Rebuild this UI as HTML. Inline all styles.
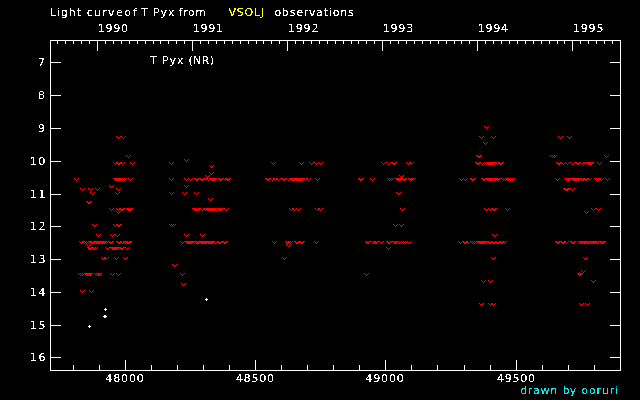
<!DOCTYPE html>
<html><head><meta charset="utf-8"><title>Light curve of T Pyx</title>
<style>
html,body{margin:0;padding:0;background:#000;}
body{width:640px;height:400px;overflow:hidden;position:relative;font-family:"DejaVu Sans","Liberation Sans",sans-serif;font-size:11px;color:#fff;}
svg{position:absolute;left:0;top:0;}
.t{position:absolute;white-space:pre;line-height:1;letter-spacing:0.75px;filter:url(#th);}
</style></head><body>
<svg width="640" height="400" viewBox="0 0 640 400" shape-rendering="crispEdges">
<defs><filter id="th" x="0" y="0" width="100%" height="100%" color-interpolation-filters="sRGB"><feComponentTransfer><feFuncA type="discrete" tableValues="0 0 1 1 1"/></feComponentTransfer></filter></defs>
<rect width="640" height="400" fill="#000"/>
<path fill="#fff" d="M50 40h571v1h-571zM50 370h571v1h-571zM50 40h1v331h-1zM620 40h1v331h-1zM50 62h11v1h-11zM610 62h11v1h-11zM50 95h11v1h-11zM610 95h11v1h-11zM50 128h11v1h-11zM610 128h11v1h-11zM50 161h11v1h-11zM610 161h11v1h-11zM50 194h11v1h-11zM610 194h11v1h-11zM50 226h11v1h-11zM610 226h11v1h-11zM50 259h11v1h-11zM610 259h11v1h-11zM50 292h11v1h-11zM610 292h11v1h-11zM50 325h11v1h-11zM610 325h11v1h-11zM50 357h11v1h-11zM610 357h11v1h-11zM73 365h1v5h-1zM99 365h1v5h-1zM125 360h1v10h-1zM151 365h1v5h-1zM177 365h1v5h-1zM203 365h1v5h-1zM229 365h1v5h-1zM255 360h1v10h-1zM281 365h1v5h-1zM307 365h1v5h-1zM333 365h1v5h-1zM359 365h1v5h-1zM385 360h1v10h-1zM411 365h1v5h-1zM437 365h1v5h-1zM464 365h1v5h-1zM490 365h1v5h-1zM516 360h1v10h-1zM542 365h1v5h-1zM568 365h1v5h-1zM594 365h1v5h-1zM57 40h1v4h-1zM65 40h1v4h-1zM73 40h1v4h-1zM81 40h1v4h-1zM89 40h1v4h-1zM97 40h1v11h-1zM105 40h1v4h-1zM113 40h1v4h-1zM121 40h1v4h-1zM129 40h1v4h-1zM137 40h1v4h-1zM145 40h1v4h-1zM153 40h1v4h-1zM160 40h1v4h-1zM168 40h1v4h-1zM176 40h1v4h-1zM184 40h1v4h-1zM192 40h1v11h-1zM200 40h1v4h-1zM208 40h1v4h-1zM216 40h1v4h-1zM224 40h1v4h-1zM232 40h1v4h-1zM240 40h1v4h-1zM248 40h1v4h-1zM256 40h1v4h-1zM263 40h1v4h-1zM271 40h1v4h-1zM279 40h1v4h-1zM287 40h1v11h-1zM295 40h1v4h-1zM303 40h1v4h-1zM311 40h1v4h-1zM319 40h1v4h-1zM327 40h1v4h-1zM335 40h1v4h-1zM343 40h1v4h-1zM351 40h1v4h-1zM358 40h1v4h-1zM366 40h1v4h-1zM374 40h1v4h-1zM382 40h1v11h-1zM390 40h1v4h-1zM398 40h1v4h-1zM406 40h1v4h-1zM414 40h1v4h-1zM422 40h1v4h-1zM430 40h1v4h-1zM438 40h1v4h-1zM446 40h1v4h-1zM454 40h1v4h-1zM461 40h1v4h-1zM469 40h1v4h-1zM477 40h1v11h-1zM485 40h1v4h-1zM493 40h1v4h-1zM501 40h1v4h-1zM509 40h1v4h-1zM517 40h1v4h-1zM525 40h1v4h-1zM533 40h1v4h-1zM541 40h1v4h-1zM549 40h1v4h-1zM557 40h1v4h-1zM564 40h1v4h-1zM572 40h1v11h-1zM580 40h1v4h-1zM588 40h1v4h-1zM596 40h1v4h-1zM604 40h1v4h-1zM612 40h1v4h-1z"/>
<path fill="#f00" d="M116 136h1v1h1v1h1v-1h1v-1h1v1h-1v1h-1v1h-1v-1h-1v-1h-1zM121 136h1v1h1v1h1v-1h1v-1h1v1h-1v1h-1v1h-1v-1h-1v-1h-1zM126 155h1v1h1v1h1v-1h1v-1h1v1h-1v1h-1v1h-1v-1h-1v-1h-1zM113 162h1v1h1v1h1v-1h1v-1h1v1h-1v1h-1v1h-1v-1h-1v-1h-1zM116 162h1v1h1v1h1v-1h1v-1h1v1h-1v1h-1v1h-1v-1h-1v-1h-1zM117 162h1v1h1v1h1v-1h1v-1h1v1h-1v1h-1v1h-1v-1h-1v-1h-1zM120 162h1v1h1v1h1v-1h1v-1h1v1h-1v1h-1v1h-1v-1h-1v-1h-1zM130 162h1v1h1v1h1v-1h1v-1h1v1h-1v1h-1v1h-1v-1h-1v-1h-1zM74 178h1v1h1v1h1v-1h1v-1h1v1h-1v1h-1v1h-1v-1h-1v-1h-1zM113 178h1v1h1v1h1v-1h1v-1h1v1h-1v1h-1v1h-1v-1h-1v-1h-1zM114 178h1v1h1v1h1v-1h1v-1h1v1h-1v1h-1v1h-1v-1h-1v-1h-1zM115 178h1v1h1v1h1v-1h1v-1h1v1h-1v1h-1v1h-1v-1h-1v-1h-1zM116 178h1v1h1v1h1v-1h1v-1h1v1h-1v1h-1v1h-1v-1h-1v-1h-1zM117 178h1v1h1v1h1v-1h1v-1h1v1h-1v1h-1v1h-1v-1h-1v-1h-1zM118 178h1v1h1v1h1v-1h1v-1h1v1h-1v1h-1v1h-1v-1h-1v-1h-1zM120 178h1v1h1v1h1v-1h1v-1h1v1h-1v1h-1v1h-1v-1h-1v-1h-1zM122 178h1v1h1v1h1v-1h1v-1h1v1h-1v1h-1v1h-1v-1h-1v-1h-1zM128 178h1v1h1v1h1v-1h1v-1h1v1h-1v1h-1v1h-1v-1h-1v-1h-1zM109 185h1v1h1v1h1v-1h1v-1h1v1h-1v1h-1v1h-1v-1h-1v-1h-1zM80 188h1v1h1v1h1v-1h1v-1h1v1h-1v1h-1v1h-1v-1h-1v-1h-1zM88 188h1v1h1v1h1v-1h1v-1h1v1h-1v1h-1v1h-1v-1h-1v-1h-1zM95 188h1v1h1v1h1v-1h1v-1h1v1h-1v1h-1v1h-1v-1h-1v-1h-1zM116 188h1v1h1v1h1v-1h1v-1h1v1h-1v1h-1v1h-1v-1h-1v-1h-1zM90 192h1v1h1v1h1v-1h1v-1h1v1h-1v1h-1v1h-1v-1h-1v-1h-1zM115 192h1v1h1v1h1v-1h1v-1h1v1h-1v1h-1v1h-1v-1h-1v-1h-1zM86 201h1v1h1v1h1v-1h1v-1h1v1h-1v1h-1v1h-1v-1h-1v-1h-1zM87 201h1v1h1v1h1v-1h1v-1h1v1h-1v1h-1v1h-1v-1h-1v-1h-1zM109 208h1v1h1v1h1v-1h1v-1h1v1h-1v1h-1v1h-1v-1h-1v-1h-1zM116 208h1v1h1v1h1v-1h1v-1h1v1h-1v1h-1v1h-1v-1h-1v-1h-1zM119 208h1v1h1v1h1v-1h1v-1h1v1h-1v1h-1v1h-1v-1h-1v-1h-1zM120 208h1v1h1v1h1v-1h1v-1h1v1h-1v1h-1v1h-1v-1h-1v-1h-1zM126 208h1v1h1v1h1v-1h1v-1h1v1h-1v1h-1v1h-1v-1h-1v-1h-1zM127 208h1v1h1v1h1v-1h1v-1h1v1h-1v1h-1v1h-1v-1h-1v-1h-1zM128 208h1v1h1v1h1v-1h1v-1h1v1h-1v1h-1v1h-1v-1h-1v-1h-1zM116 211h1v1h1v1h1v-1h1v-1h1v1h-1v1h-1v1h-1v-1h-1v-1h-1zM92 224h1v1h1v1h1v-1h1v-1h1v1h-1v1h-1v1h-1v-1h-1v-1h-1zM113 224h1v1h1v1h1v-1h1v-1h1v1h-1v1h-1v1h-1v-1h-1v-1h-1zM116 224h1v1h1v1h1v-1h1v-1h1v1h-1v1h-1v1h-1v-1h-1v-1h-1zM117 224h1v1h1v1h1v-1h1v-1h1v1h-1v1h-1v1h-1v-1h-1v-1h-1zM96 234h1v1h1v1h1v-1h1v-1h1v1h-1v1h-1v1h-1v-1h-1v-1h-1zM110 234h1v1h1v1h1v-1h1v-1h1v1h-1v1h-1v1h-1v-1h-1v-1h-1zM115 234h1v1h1v1h1v-1h1v-1h1v1h-1v1h-1v1h-1v-1h-1v-1h-1zM79 241h1v1h1v1h1v-1h1v-1h1v1h-1v1h-1v1h-1v-1h-1v-1h-1zM82 241h1v1h1v1h1v-1h1v-1h1v1h-1v1h-1v1h-1v-1h-1v-1h-1zM84 241h1v1h1v1h1v-1h1v-1h1v1h-1v1h-1v1h-1v-1h-1v-1h-1zM86 241h1v1h1v1h1v-1h1v-1h1v1h-1v1h-1v1h-1v-1h-1v-1h-1zM89 241h1v1h1v1h1v-1h1v-1h1v1h-1v1h-1v1h-1v-1h-1v-1h-1zM90 241h1v1h1v1h1v-1h1v-1h1v1h-1v1h-1v1h-1v-1h-1v-1h-1zM91 241h1v1h1v1h1v-1h1v-1h1v1h-1v1h-1v1h-1v-1h-1v-1h-1zM94 241h1v1h1v1h1v-1h1v-1h1v1h-1v1h-1v1h-1v-1h-1v-1h-1zM95 241h1v1h1v1h1v-1h1v-1h1v1h-1v1h-1v1h-1v-1h-1v-1h-1zM96 241h1v1h1v1h1v-1h1v-1h1v1h-1v1h-1v1h-1v-1h-1v-1h-1zM97 241h1v1h1v1h1v-1h1v-1h1v1h-1v1h-1v1h-1v-1h-1v-1h-1zM99 241h1v1h1v1h1v-1h1v-1h1v1h-1v1h-1v1h-1v-1h-1v-1h-1zM100 241h1v1h1v1h1v-1h1v-1h1v1h-1v1h-1v1h-1v-1h-1v-1h-1zM101 241h1v1h1v1h1v-1h1v-1h1v1h-1v1h-1v1h-1v-1h-1v-1h-1zM102 241h1v1h1v1h1v-1h1v-1h1v1h-1v1h-1v1h-1v-1h-1v-1h-1zM104 241h1v1h1v1h1v-1h1v-1h1v1h-1v1h-1v1h-1v-1h-1v-1h-1zM108 241h1v1h1v1h1v-1h1v-1h1v1h-1v1h-1v1h-1v-1h-1v-1h-1zM109 241h1v1h1v1h1v-1h1v-1h1v1h-1v1h-1v1h-1v-1h-1v-1h-1zM116 241h1v1h1v1h1v-1h1v-1h1v1h-1v1h-1v1h-1v-1h-1v-1h-1zM117 241h1v1h1v1h1v-1h1v-1h1v1h-1v1h-1v1h-1v-1h-1v-1h-1zM120 241h1v1h1v1h1v-1h1v-1h1v1h-1v1h-1v1h-1v-1h-1v-1h-1zM123 241h1v1h1v1h1v-1h1v-1h1v1h-1v1h-1v1h-1v-1h-1v-1h-1zM125 241h1v1h1v1h1v-1h1v-1h1v1h-1v1h-1v1h-1v-1h-1v-1h-1zM126 241h1v1h1v1h1v-1h1v-1h1v1h-1v1h-1v1h-1v-1h-1v-1h-1zM127 241h1v1h1v1h1v-1h1v-1h1v1h-1v1h-1v1h-1v-1h-1v-1h-1zM86 244h1v1h1v1h1v-1h1v-1h1v1h-1v1h-1v1h-1v-1h-1v-1h-1zM87 247h1v1h1v1h1v-1h1v-1h1v1h-1v1h-1v1h-1v-1h-1v-1h-1zM88 247h1v1h1v1h1v-1h1v-1h1v1h-1v1h-1v1h-1v-1h-1v-1h-1zM91 247h1v1h1v1h1v-1h1v-1h1v1h-1v1h-1v1h-1v-1h-1v-1h-1zM93 247h1v1h1v1h1v-1h1v-1h1v1h-1v1h-1v1h-1v-1h-1v-1h-1zM105 247h1v1h1v1h1v-1h1v-1h1v1h-1v1h-1v1h-1v-1h-1v-1h-1zM110 247h1v1h1v1h1v-1h1v-1h1v1h-1v1h-1v1h-1v-1h-1v-1h-1zM111 247h1v1h1v1h1v-1h1v-1h1v1h-1v1h-1v1h-1v-1h-1v-1h-1zM112 247h1v1h1v1h1v-1h1v-1h1v1h-1v1h-1v1h-1v-1h-1v-1h-1zM113 247h1v1h1v1h1v-1h1v-1h1v1h-1v1h-1v1h-1v-1h-1v-1h-1zM114 247h1v1h1v1h1v-1h1v-1h1v1h-1v1h-1v1h-1v-1h-1v-1h-1zM116 247h1v1h1v1h1v-1h1v-1h1v1h-1v1h-1v1h-1v-1h-1v-1h-1zM119 247h1v1h1v1h1v-1h1v-1h1v1h-1v1h-1v1h-1v-1h-1v-1h-1zM120 247h1v1h1v1h1v-1h1v-1h1v1h-1v1h-1v1h-1v-1h-1v-1h-1zM125 247h1v1h1v1h1v-1h1v-1h1v1h-1v1h-1v1h-1v-1h-1v-1h-1zM101 257h1v1h1v1h1v-1h1v-1h1v1h-1v1h-1v1h-1v-1h-1v-1h-1zM104 257h1v1h1v1h1v-1h1v-1h1v1h-1v1h-1v1h-1v-1h-1v-1h-1zM114 257h1v1h1v1h1v-1h1v-1h1v1h-1v1h-1v1h-1v-1h-1v-1h-1zM123 257h1v1h1v1h1v-1h1v-1h1v1h-1v1h-1v1h-1v-1h-1v-1h-1zM78 273h1v1h1v1h1v-1h1v-1h1v1h-1v1h-1v1h-1v-1h-1v-1h-1zM80 273h1v1h1v1h1v-1h1v-1h1v1h-1v1h-1v1h-1v-1h-1v-1h-1zM84 273h1v1h1v1h1v-1h1v-1h1v1h-1v1h-1v1h-1v-1h-1v-1h-1zM85 273h1v1h1v1h1v-1h1v-1h1v1h-1v1h-1v1h-1v-1h-1v-1h-1zM86 273h1v1h1v1h1v-1h1v-1h1v1h-1v1h-1v1h-1v-1h-1v-1h-1zM87 273h1v1h1v1h1v-1h1v-1h1v1h-1v1h-1v1h-1v-1h-1v-1h-1zM88 273h1v1h1v1h1v-1h1v-1h1v1h-1v1h-1v1h-1v-1h-1v-1h-1zM94 273h1v1h1v1h1v-1h1v-1h1v1h-1v1h-1v1h-1v-1h-1v-1h-1zM96 273h1v1h1v1h1v-1h1v-1h1v1h-1v1h-1v1h-1v-1h-1v-1h-1zM97 273h1v1h1v1h1v-1h1v-1h1v1h-1v1h-1v1h-1v-1h-1v-1h-1zM110 273h1v1h1v1h1v-1h1v-1h1v1h-1v1h-1v1h-1v-1h-1v-1h-1zM116 273h1v1h1v1h1v-1h1v-1h1v1h-1v1h-1v1h-1v-1h-1v-1h-1zM80 290h1v1h1v1h1v-1h1v-1h1v1h-1v1h-1v1h-1v-1h-1v-1h-1zM89 290h1v1h1v1h1v-1h1v-1h1v1h-1v1h-1v1h-1v-1h-1v-1h-1zM184 159h1v1h1v1h1v-1h1v-1h1v1h-1v1h-1v1h-1v-1h-1v-1h-1zM169 162h1v1h1v1h1v-1h1v-1h1v1h-1v1h-1v1h-1v-1h-1v-1h-1zM209 165h1v1h1v1h1v-1h1v-1h1v1h-1v1h-1v1h-1v-1h-1v-1h-1zM209 172h1v1h1v1h1v-1h1v-1h1v1h-1v1h-1v1h-1v-1h-1v-1h-1zM205 175h1v1h1v1h1v-1h1v-1h1v1h-1v1h-1v1h-1v-1h-1v-1h-1zM169 178h1v1h1v1h1v-1h1v-1h1v1h-1v1h-1v1h-1v-1h-1v-1h-1zM184 178h1v1h1v1h1v-1h1v-1h1v1h-1v1h-1v1h-1v-1h-1v-1h-1zM188 178h1v1h1v1h1v-1h1v-1h1v1h-1v1h-1v1h-1v-1h-1v-1h-1zM194 178h1v1h1v1h1v-1h1v-1h1v1h-1v1h-1v1h-1v-1h-1v-1h-1zM195 178h1v1h1v1h1v-1h1v-1h1v1h-1v1h-1v1h-1v-1h-1v-1h-1zM199 178h1v1h1v1h1v-1h1v-1h1v1h-1v1h-1v1h-1v-1h-1v-1h-1zM200 178h1v1h1v1h1v-1h1v-1h1v1h-1v1h-1v1h-1v-1h-1v-1h-1zM203 178h1v1h1v1h1v-1h1v-1h1v1h-1v1h-1v1h-1v-1h-1v-1h-1zM206 178h1v1h1v1h1v-1h1v-1h1v1h-1v1h-1v1h-1v-1h-1v-1h-1zM209 178h1v1h1v1h1v-1h1v-1h1v1h-1v1h-1v1h-1v-1h-1v-1h-1zM210 178h1v1h1v1h1v-1h1v-1h1v1h-1v1h-1v1h-1v-1h-1v-1h-1zM211 178h1v1h1v1h1v-1h1v-1h1v1h-1v1h-1v1h-1v-1h-1v-1h-1zM212 178h1v1h1v1h1v-1h1v-1h1v1h-1v1h-1v1h-1v-1h-1v-1h-1zM218 178h1v1h1v1h1v-1h1v-1h1v1h-1v1h-1v1h-1v-1h-1v-1h-1zM219 178h1v1h1v1h1v-1h1v-1h1v1h-1v1h-1v1h-1v-1h-1v-1h-1zM223 178h1v1h1v1h1v-1h1v-1h1v1h-1v1h-1v1h-1v-1h-1v-1h-1zM225 178h1v1h1v1h1v-1h1v-1h1v1h-1v1h-1v1h-1v-1h-1v-1h-1zM226 178h1v1h1v1h1v-1h1v-1h1v1h-1v1h-1v1h-1v-1h-1v-1h-1zM184 185h1v1h1v1h1v-1h1v-1h1v1h-1v1h-1v1h-1v-1h-1v-1h-1zM169 192h1v1h1v1h1v-1h1v-1h1v1h-1v1h-1v1h-1v-1h-1v-1h-1zM182 192h1v1h1v1h1v-1h1v-1h1v1h-1v1h-1v1h-1v-1h-1v-1h-1zM194 192h1v1h1v1h1v-1h1v-1h1v1h-1v1h-1v1h-1v-1h-1v-1h-1zM208 198h1v1h1v1h1v-1h1v-1h1v1h-1v1h-1v1h-1v-1h-1v-1h-1zM192 208h1v1h1v1h1v-1h1v-1h1v1h-1v1h-1v1h-1v-1h-1v-1h-1zM194 208h1v1h1v1h1v-1h1v-1h1v1h-1v1h-1v1h-1v-1h-1v-1h-1zM195 208h1v1h1v1h1v-1h1v-1h1v1h-1v1h-1v1h-1v-1h-1v-1h-1zM196 208h1v1h1v1h1v-1h1v-1h1v1h-1v1h-1v1h-1v-1h-1v-1h-1zM200 208h1v1h1v1h1v-1h1v-1h1v1h-1v1h-1v1h-1v-1h-1v-1h-1zM203 208h1v1h1v1h1v-1h1v-1h1v1h-1v1h-1v1h-1v-1h-1v-1h-1zM205 208h1v1h1v1h1v-1h1v-1h1v1h-1v1h-1v1h-1v-1h-1v-1h-1zM206 208h1v1h1v1h1v-1h1v-1h1v1h-1v1h-1v1h-1v-1h-1v-1h-1zM207 208h1v1h1v1h1v-1h1v-1h1v1h-1v1h-1v1h-1v-1h-1v-1h-1zM208 208h1v1h1v1h1v-1h1v-1h1v1h-1v1h-1v1h-1v-1h-1v-1h-1zM209 208h1v1h1v1h1v-1h1v-1h1v1h-1v1h-1v1h-1v-1h-1v-1h-1zM210 208h1v1h1v1h1v-1h1v-1h1v1h-1v1h-1v1h-1v-1h-1v-1h-1zM211 208h1v1h1v1h1v-1h1v-1h1v1h-1v1h-1v1h-1v-1h-1v-1h-1zM212 208h1v1h1v1h1v-1h1v-1h1v1h-1v1h-1v1h-1v-1h-1v-1h-1zM214 208h1v1h1v1h1v-1h1v-1h1v1h-1v1h-1v1h-1v-1h-1v-1h-1zM216 208h1v1h1v1h1v-1h1v-1h1v1h-1v1h-1v1h-1v-1h-1v-1h-1zM218 208h1v1h1v1h1v-1h1v-1h1v1h-1v1h-1v1h-1v-1h-1v-1h-1zM219 208h1v1h1v1h1v-1h1v-1h1v1h-1v1h-1v1h-1v-1h-1v-1h-1zM224 208h1v1h1v1h1v-1h1v-1h1v1h-1v1h-1v1h-1v-1h-1v-1h-1zM169 224h1v1h1v1h1v-1h1v-1h1v1h-1v1h-1v1h-1v-1h-1v-1h-1zM171 224h1v1h1v1h1v-1h1v-1h1v1h-1v1h-1v1h-1v-1h-1v-1h-1zM184 234h1v1h1v1h1v-1h1v-1h1v1h-1v1h-1v1h-1v-1h-1v-1h-1zM200 234h1v1h1v1h1v-1h1v-1h1v1h-1v1h-1v1h-1v-1h-1v-1h-1zM180 241h1v1h1v1h1v-1h1v-1h1v1h-1v1h-1v1h-1v-1h-1v-1h-1zM185 241h1v1h1v1h1v-1h1v-1h1v1h-1v1h-1v1h-1v-1h-1v-1h-1zM186 241h1v1h1v1h1v-1h1v-1h1v1h-1v1h-1v1h-1v-1h-1v-1h-1zM187 241h1v1h1v1h1v-1h1v-1h1v1h-1v1h-1v1h-1v-1h-1v-1h-1zM188 241h1v1h1v1h1v-1h1v-1h1v1h-1v1h-1v1h-1v-1h-1v-1h-1zM189 241h1v1h1v1h1v-1h1v-1h1v1h-1v1h-1v1h-1v-1h-1v-1h-1zM192 241h1v1h1v1h1v-1h1v-1h1v1h-1v1h-1v1h-1v-1h-1v-1h-1zM194 241h1v1h1v1h1v-1h1v-1h1v1h-1v1h-1v1h-1v-1h-1v-1h-1zM195 241h1v1h1v1h1v-1h1v-1h1v1h-1v1h-1v1h-1v-1h-1v-1h-1zM196 241h1v1h1v1h1v-1h1v-1h1v1h-1v1h-1v1h-1v-1h-1v-1h-1zM199 241h1v1h1v1h1v-1h1v-1h1v1h-1v1h-1v1h-1v-1h-1v-1h-1zM200 241h1v1h1v1h1v-1h1v-1h1v1h-1v1h-1v1h-1v-1h-1v-1h-1zM201 241h1v1h1v1h1v-1h1v-1h1v1h-1v1h-1v1h-1v-1h-1v-1h-1zM202 241h1v1h1v1h1v-1h1v-1h1v1h-1v1h-1v1h-1v-1h-1v-1h-1zM203 241h1v1h1v1h1v-1h1v-1h1v1h-1v1h-1v1h-1v-1h-1v-1h-1zM204 241h1v1h1v1h1v-1h1v-1h1v1h-1v1h-1v1h-1v-1h-1v-1h-1zM206 241h1v1h1v1h1v-1h1v-1h1v1h-1v1h-1v1h-1v-1h-1v-1h-1zM207 241h1v1h1v1h1v-1h1v-1h1v1h-1v1h-1v1h-1v-1h-1v-1h-1zM208 241h1v1h1v1h1v-1h1v-1h1v1h-1v1h-1v1h-1v-1h-1v-1h-1zM209 241h1v1h1v1h1v-1h1v-1h1v1h-1v1h-1v1h-1v-1h-1v-1h-1zM210 241h1v1h1v1h1v-1h1v-1h1v1h-1v1h-1v1h-1v-1h-1v-1h-1zM213 241h1v1h1v1h1v-1h1v-1h1v1h-1v1h-1v1h-1v-1h-1v-1h-1zM217 241h1v1h1v1h1v-1h1v-1h1v1h-1v1h-1v1h-1v-1h-1v-1h-1zM218 241h1v1h1v1h1v-1h1v-1h1v1h-1v1h-1v1h-1v-1h-1v-1h-1zM222 241h1v1h1v1h1v-1h1v-1h1v1h-1v1h-1v1h-1v-1h-1v-1h-1zM223 241h1v1h1v1h1v-1h1v-1h1v1h-1v1h-1v1h-1v-1h-1v-1h-1zM172 264h1v1h1v1h1v-1h1v-1h1v1h-1v1h-1v1h-1v-1h-1v-1h-1zM180 273h1v1h1v1h1v-1h1v-1h1v1h-1v1h-1v1h-1v-1h-1v-1h-1zM181 283h1v1h1v1h1v-1h1v-1h1v1h-1v1h-1v1h-1v-1h-1v-1h-1zM271 162h1v1h1v1h1v-1h1v-1h1v1h-1v1h-1v1h-1v-1h-1v-1h-1zM299 162h1v1h1v1h1v-1h1v-1h1v1h-1v1h-1v1h-1v-1h-1v-1h-1zM309 162h1v1h1v1h1v-1h1v-1h1v1h-1v1h-1v1h-1v-1h-1v-1h-1zM314 162h1v1h1v1h1v-1h1v-1h1v1h-1v1h-1v1h-1v-1h-1v-1h-1zM318 162h1v1h1v1h1v-1h1v-1h1v1h-1v1h-1v1h-1v-1h-1v-1h-1zM265 178h1v1h1v1h1v-1h1v-1h1v1h-1v1h-1v1h-1v-1h-1v-1h-1zM266 178h1v1h1v1h1v-1h1v-1h1v1h-1v1h-1v1h-1v-1h-1v-1h-1zM270 178h1v1h1v1h1v-1h1v-1h1v1h-1v1h-1v1h-1v-1h-1v-1h-1zM273 178h1v1h1v1h1v-1h1v-1h1v1h-1v1h-1v1h-1v-1h-1v-1h-1zM276 178h1v1h1v1h1v-1h1v-1h1v1h-1v1h-1v1h-1v-1h-1v-1h-1zM281 178h1v1h1v1h1v-1h1v-1h1v1h-1v1h-1v1h-1v-1h-1v-1h-1zM282 178h1v1h1v1h1v-1h1v-1h1v1h-1v1h-1v1h-1v-1h-1v-1h-1zM286 178h1v1h1v1h1v-1h1v-1h1v1h-1v1h-1v1h-1v-1h-1v-1h-1zM289 178h1v1h1v1h1v-1h1v-1h1v1h-1v1h-1v1h-1v-1h-1v-1h-1zM290 178h1v1h1v1h1v-1h1v-1h1v1h-1v1h-1v1h-1v-1h-1v-1h-1zM291 178h1v1h1v1h1v-1h1v-1h1v1h-1v1h-1v1h-1v-1h-1v-1h-1zM292 178h1v1h1v1h1v-1h1v-1h1v1h-1v1h-1v1h-1v-1h-1v-1h-1zM294 178h1v1h1v1h1v-1h1v-1h1v1h-1v1h-1v1h-1v-1h-1v-1h-1zM295 178h1v1h1v1h1v-1h1v-1h1v1h-1v1h-1v1h-1v-1h-1v-1h-1zM296 178h1v1h1v1h1v-1h1v-1h1v1h-1v1h-1v1h-1v-1h-1v-1h-1zM297 178h1v1h1v1h1v-1h1v-1h1v1h-1v1h-1v1h-1v-1h-1v-1h-1zM298 178h1v1h1v1h1v-1h1v-1h1v1h-1v1h-1v1h-1v-1h-1v-1h-1zM299 178h1v1h1v1h1v-1h1v-1h1v1h-1v1h-1v1h-1v-1h-1v-1h-1zM300 178h1v1h1v1h1v-1h1v-1h1v1h-1v1h-1v1h-1v-1h-1v-1h-1zM303 178h1v1h1v1h1v-1h1v-1h1v1h-1v1h-1v1h-1v-1h-1v-1h-1zM306 178h1v1h1v1h1v-1h1v-1h1v1h-1v1h-1v1h-1v-1h-1v-1h-1zM315 178h1v1h1v1h1v-1h1v-1h1v1h-1v1h-1v1h-1v-1h-1v-1h-1zM289 208h1v1h1v1h1v-1h1v-1h1v1h-1v1h-1v1h-1v-1h-1v-1h-1zM292 208h1v1h1v1h1v-1h1v-1h1v1h-1v1h-1v1h-1v-1h-1v-1h-1zM296 208h1v1h1v1h1v-1h1v-1h1v1h-1v1h-1v1h-1v-1h-1v-1h-1zM315 208h1v1h1v1h1v-1h1v-1h1v1h-1v1h-1v1h-1v-1h-1v-1h-1zM318 208h1v1h1v1h1v-1h1v-1h1v1h-1v1h-1v1h-1v-1h-1v-1h-1zM272 241h1v1h1v1h1v-1h1v-1h1v1h-1v1h-1v1h-1v-1h-1v-1h-1zM285 241h1v1h1v1h1v-1h1v-1h1v1h-1v1h-1v1h-1v-1h-1v-1h-1zM286 241h1v1h1v1h1v-1h1v-1h1v1h-1v1h-1v1h-1v-1h-1v-1h-1zM288 241h1v1h1v1h1v-1h1v-1h1v1h-1v1h-1v1h-1v-1h-1v-1h-1zM294 241h1v1h1v1h1v-1h1v-1h1v1h-1v1h-1v1h-1v-1h-1v-1h-1zM295 241h1v1h1v1h1v-1h1v-1h1v1h-1v1h-1v1h-1v-1h-1v-1h-1zM299 241h1v1h1v1h1v-1h1v-1h1v1h-1v1h-1v1h-1v-1h-1v-1h-1zM300 241h1v1h1v1h1v-1h1v-1h1v1h-1v1h-1v1h-1v-1h-1v-1h-1zM314 241h1v1h1v1h1v-1h1v-1h1v1h-1v1h-1v1h-1v-1h-1v-1h-1zM286 244h1v1h1v1h1v-1h1v-1h1v1h-1v1h-1v1h-1v-1h-1v-1h-1zM282 257h1v1h1v1h1v-1h1v-1h1v1h-1v1h-1v1h-1v-1h-1v-1h-1zM381 162h1v1h1v1h1v-1h1v-1h1v1h-1v1h-1v1h-1v-1h-1v-1h-1zM386 162h1v1h1v1h1v-1h1v-1h1v1h-1v1h-1v1h-1v-1h-1v-1h-1zM391 162h1v1h1v1h1v-1h1v-1h1v1h-1v1h-1v1h-1v-1h-1v-1h-1zM392 162h1v1h1v1h1v-1h1v-1h1v1h-1v1h-1v1h-1v-1h-1v-1h-1zM406 162h1v1h1v1h1v-1h1v-1h1v1h-1v1h-1v1h-1v-1h-1v-1h-1zM409 162h1v1h1v1h1v-1h1v-1h1v1h-1v1h-1v1h-1v-1h-1v-1h-1zM358 178h1v1h1v1h1v-1h1v-1h1v1h-1v1h-1v1h-1v-1h-1v-1h-1zM359 178h1v1h1v1h1v-1h1v-1h1v1h-1v1h-1v1h-1v-1h-1v-1h-1zM370 178h1v1h1v1h1v-1h1v-1h1v1h-1v1h-1v1h-1v-1h-1v-1h-1zM387 178h1v1h1v1h1v-1h1v-1h1v1h-1v1h-1v1h-1v-1h-1v-1h-1zM389 178h1v1h1v1h1v-1h1v-1h1v1h-1v1h-1v1h-1v-1h-1v-1h-1zM395 178h1v1h1v1h1v-1h1v-1h1v1h-1v1h-1v1h-1v-1h-1v-1h-1zM396 178h1v1h1v1h1v-1h1v-1h1v1h-1v1h-1v1h-1v-1h-1v-1h-1zM397 178h1v1h1v1h1v-1h1v-1h1v1h-1v1h-1v1h-1v-1h-1v-1h-1zM398 178h1v1h1v1h1v-1h1v-1h1v1h-1v1h-1v1h-1v-1h-1v-1h-1zM401 178h1v1h1v1h1v-1h1v-1h1v1h-1v1h-1v1h-1v-1h-1v-1h-1zM402 178h1v1h1v1h1v-1h1v-1h1v1h-1v1h-1v1h-1v-1h-1v-1h-1zM408 178h1v1h1v1h1v-1h1v-1h1v1h-1v1h-1v1h-1v-1h-1v-1h-1zM409 178h1v1h1v1h1v-1h1v-1h1v1h-1v1h-1v1h-1v-1h-1v-1h-1zM411 178h1v1h1v1h1v-1h1v-1h1v1h-1v1h-1v1h-1v-1h-1v-1h-1zM399 175h1v1h1v1h1v-1h1v-1h1v1h-1v1h-1v1h-1v-1h-1v-1h-1zM396 192h1v1h1v1h1v-1h1v-1h1v1h-1v1h-1v1h-1v-1h-1v-1h-1zM400 208h1v1h1v1h1v-1h1v-1h1v1h-1v1h-1v1h-1v-1h-1v-1h-1zM393 224h1v1h1v1h1v-1h1v-1h1v1h-1v1h-1v1h-1v-1h-1v-1h-1zM399 224h1v1h1v1h1v-1h1v-1h1v1h-1v1h-1v1h-1v-1h-1v-1h-1zM365 241h1v1h1v1h1v-1h1v-1h1v1h-1v1h-1v1h-1v-1h-1v-1h-1zM366 241h1v1h1v1h1v-1h1v-1h1v1h-1v1h-1v1h-1v-1h-1v-1h-1zM371 241h1v1h1v1h1v-1h1v-1h1v1h-1v1h-1v1h-1v-1h-1v-1h-1zM373 241h1v1h1v1h1v-1h1v-1h1v1h-1v1h-1v1h-1v-1h-1v-1h-1zM374 241h1v1h1v1h1v-1h1v-1h1v1h-1v1h-1v1h-1v-1h-1v-1h-1zM379 241h1v1h1v1h1v-1h1v-1h1v1h-1v1h-1v1h-1v-1h-1v-1h-1zM386 241h1v1h1v1h1v-1h1v-1h1v1h-1v1h-1v1h-1v-1h-1v-1h-1zM387 241h1v1h1v1h1v-1h1v-1h1v1h-1v1h-1v1h-1v-1h-1v-1h-1zM392 241h1v1h1v1h1v-1h1v-1h1v1h-1v1h-1v1h-1v-1h-1v-1h-1zM393 241h1v1h1v1h1v-1h1v-1h1v1h-1v1h-1v1h-1v-1h-1v-1h-1zM395 241h1v1h1v1h1v-1h1v-1h1v1h-1v1h-1v1h-1v-1h-1v-1h-1zM397 241h1v1h1v1h1v-1h1v-1h1v1h-1v1h-1v1h-1v-1h-1v-1h-1zM399 241h1v1h1v1h1v-1h1v-1h1v1h-1v1h-1v1h-1v-1h-1v-1h-1zM401 241h1v1h1v1h1v-1h1v-1h1v1h-1v1h-1v1h-1v-1h-1v-1h-1zM403 241h1v1h1v1h1v-1h1v-1h1v1h-1v1h-1v1h-1v-1h-1v-1h-1zM407 241h1v1h1v1h1v-1h1v-1h1v1h-1v1h-1v1h-1v-1h-1v-1h-1zM386 247h1v1h1v1h1v-1h1v-1h1v1h-1v1h-1v1h-1v-1h-1v-1h-1zM364 273h1v1h1v1h1v-1h1v-1h1v1h-1v1h-1v1h-1v-1h-1v-1h-1zM484 126h1v1h1v1h1v-1h1v-1h1v1h-1v1h-1v1h-1v-1h-1v-1h-1zM479 136h1v1h1v1h1v-1h1v-1h1v1h-1v1h-1v1h-1v-1h-1v-1h-1zM491 136h1v1h1v1h1v-1h1v-1h1v1h-1v1h-1v1h-1v-1h-1v-1h-1zM483 142h1v1h1v1h1v-1h1v-1h1v1h-1v1h-1v1h-1v-1h-1v-1h-1zM476 155h1v1h1v1h1v-1h1v-1h1v1h-1v1h-1v1h-1v-1h-1v-1h-1zM477 155h1v1h1v1h1v-1h1v-1h1v1h-1v1h-1v1h-1v-1h-1v-1h-1zM475 162h1v1h1v1h1v-1h1v-1h1v1h-1v1h-1v1h-1v-1h-1v-1h-1zM476 162h1v1h1v1h1v-1h1v-1h1v1h-1v1h-1v1h-1v-1h-1v-1h-1zM480 162h1v1h1v1h1v-1h1v-1h1v1h-1v1h-1v1h-1v-1h-1v-1h-1zM484 162h1v1h1v1h1v-1h1v-1h1v1h-1v1h-1v1h-1v-1h-1v-1h-1zM486 162h1v1h1v1h1v-1h1v-1h1v1h-1v1h-1v1h-1v-1h-1v-1h-1zM487 162h1v1h1v1h1v-1h1v-1h1v1h-1v1h-1v1h-1v-1h-1v-1h-1zM488 162h1v1h1v1h1v-1h1v-1h1v1h-1v1h-1v1h-1v-1h-1v-1h-1zM489 162h1v1h1v1h1v-1h1v-1h1v1h-1v1h-1v1h-1v-1h-1v-1h-1zM490 162h1v1h1v1h1v-1h1v-1h1v1h-1v1h-1v1h-1v-1h-1v-1h-1zM492 162h1v1h1v1h1v-1h1v-1h1v1h-1v1h-1v1h-1v-1h-1v-1h-1zM495 162h1v1h1v1h1v-1h1v-1h1v1h-1v1h-1v1h-1v-1h-1v-1h-1zM498 162h1v1h1v1h1v-1h1v-1h1v1h-1v1h-1v1h-1v-1h-1v-1h-1zM499 162h1v1h1v1h1v-1h1v-1h1v1h-1v1h-1v1h-1v-1h-1v-1h-1zM459 178h1v1h1v1h1v-1h1v-1h1v1h-1v1h-1v1h-1v-1h-1v-1h-1zM463 178h1v1h1v1h1v-1h1v-1h1v1h-1v1h-1v1h-1v-1h-1v-1h-1zM470 178h1v1h1v1h1v-1h1v-1h1v1h-1v1h-1v1h-1v-1h-1v-1h-1zM471 178h1v1h1v1h1v-1h1v-1h1v1h-1v1h-1v1h-1v-1h-1v-1h-1zM481 178h1v1h1v1h1v-1h1v-1h1v1h-1v1h-1v1h-1v-1h-1v-1h-1zM482 178h1v1h1v1h1v-1h1v-1h1v1h-1v1h-1v1h-1v-1h-1v-1h-1zM485 178h1v1h1v1h1v-1h1v-1h1v1h-1v1h-1v1h-1v-1h-1v-1h-1zM486 178h1v1h1v1h1v-1h1v-1h1v1h-1v1h-1v1h-1v-1h-1v-1h-1zM487 178h1v1h1v1h1v-1h1v-1h1v1h-1v1h-1v1h-1v-1h-1v-1h-1zM488 178h1v1h1v1h1v-1h1v-1h1v1h-1v1h-1v1h-1v-1h-1v-1h-1zM489 178h1v1h1v1h1v-1h1v-1h1v1h-1v1h-1v1h-1v-1h-1v-1h-1zM490 178h1v1h1v1h1v-1h1v-1h1v1h-1v1h-1v1h-1v-1h-1v-1h-1zM492 178h1v1h1v1h1v-1h1v-1h1v1h-1v1h-1v1h-1v-1h-1v-1h-1zM493 178h1v1h1v1h1v-1h1v-1h1v1h-1v1h-1v1h-1v-1h-1v-1h-1zM495 178h1v1h1v1h1v-1h1v-1h1v1h-1v1h-1v1h-1v-1h-1v-1h-1zM496 178h1v1h1v1h1v-1h1v-1h1v1h-1v1h-1v1h-1v-1h-1v-1h-1zM501 178h1v1h1v1h1v-1h1v-1h1v1h-1v1h-1v1h-1v-1h-1v-1h-1zM503 178h1v1h1v1h1v-1h1v-1h1v1h-1v1h-1v1h-1v-1h-1v-1h-1zM505 178h1v1h1v1h1v-1h1v-1h1v1h-1v1h-1v1h-1v-1h-1v-1h-1zM506 178h1v1h1v1h1v-1h1v-1h1v1h-1v1h-1v1h-1v-1h-1v-1h-1zM508 178h1v1h1v1h1v-1h1v-1h1v1h-1v1h-1v1h-1v-1h-1v-1h-1zM510 178h1v1h1v1h1v-1h1v-1h1v1h-1v1h-1v1h-1v-1h-1v-1h-1zM484 208h1v1h1v1h1v-1h1v-1h1v1h-1v1h-1v1h-1v-1h-1v-1h-1zM488 208h1v1h1v1h1v-1h1v-1h1v1h-1v1h-1v1h-1v-1h-1v-1h-1zM491 208h1v1h1v1h1v-1h1v-1h1v1h-1v1h-1v1h-1v-1h-1v-1h-1zM492 208h1v1h1v1h1v-1h1v-1h1v1h-1v1h-1v1h-1v-1h-1v-1h-1zM505 208h1v1h1v1h1v-1h1v-1h1v1h-1v1h-1v1h-1v-1h-1v-1h-1zM492 234h1v1h1v1h1v-1h1v-1h1v1h-1v1h-1v1h-1v-1h-1v-1h-1zM458 241h1v1h1v1h1v-1h1v-1h1v1h-1v1h-1v1h-1v-1h-1v-1h-1zM462 241h1v1h1v1h1v-1h1v-1h1v1h-1v1h-1v1h-1v-1h-1v-1h-1zM463 241h1v1h1v1h1v-1h1v-1h1v1h-1v1h-1v1h-1v-1h-1v-1h-1zM466 241h1v1h1v1h1v-1h1v-1h1v1h-1v1h-1v1h-1v-1h-1v-1h-1zM470 241h1v1h1v1h1v-1h1v-1h1v1h-1v1h-1v1h-1v-1h-1v-1h-1zM472 241h1v1h1v1h1v-1h1v-1h1v1h-1v1h-1v1h-1v-1h-1v-1h-1zM474 241h1v1h1v1h1v-1h1v-1h1v1h-1v1h-1v1h-1v-1h-1v-1h-1zM477 241h1v1h1v1h1v-1h1v-1h1v1h-1v1h-1v1h-1v-1h-1v-1h-1zM478 241h1v1h1v1h1v-1h1v-1h1v1h-1v1h-1v1h-1v-1h-1v-1h-1zM479 241h1v1h1v1h1v-1h1v-1h1v1h-1v1h-1v1h-1v-1h-1v-1h-1zM480 241h1v1h1v1h1v-1h1v-1h1v1h-1v1h-1v1h-1v-1h-1v-1h-1zM481 241h1v1h1v1h1v-1h1v-1h1v1h-1v1h-1v1h-1v-1h-1v-1h-1zM482 241h1v1h1v1h1v-1h1v-1h1v1h-1v1h-1v1h-1v-1h-1v-1h-1zM485 241h1v1h1v1h1v-1h1v-1h1v1h-1v1h-1v1h-1v-1h-1v-1h-1zM487 241h1v1h1v1h1v-1h1v-1h1v1h-1v1h-1v1h-1v-1h-1v-1h-1zM488 241h1v1h1v1h1v-1h1v-1h1v1h-1v1h-1v1h-1v-1h-1v-1h-1zM491 241h1v1h1v1h1v-1h1v-1h1v1h-1v1h-1v1h-1v-1h-1v-1h-1zM492 241h1v1h1v1h1v-1h1v-1h1v1h-1v1h-1v1h-1v-1h-1v-1h-1zM495 241h1v1h1v1h1v-1h1v-1h1v1h-1v1h-1v1h-1v-1h-1v-1h-1zM496 241h1v1h1v1h1v-1h1v-1h1v1h-1v1h-1v1h-1v-1h-1v-1h-1zM499 241h1v1h1v1h1v-1h1v-1h1v1h-1v1h-1v1h-1v-1h-1v-1h-1zM500 241h1v1h1v1h1v-1h1v-1h1v1h-1v1h-1v1h-1v-1h-1v-1h-1zM502 241h1v1h1v1h1v-1h1v-1h1v1h-1v1h-1v1h-1v-1h-1v-1h-1zM491 257h1v1h1v1h1v-1h1v-1h1v1h-1v1h-1v1h-1v-1h-1v-1h-1zM481 280h1v1h1v1h1v-1h1v-1h1v1h-1v1h-1v1h-1v-1h-1v-1h-1zM488 280h1v1h1v1h1v-1h1v-1h1v1h-1v1h-1v1h-1v-1h-1v-1h-1zM479 303h1v1h1v1h1v-1h1v-1h1v1h-1v1h-1v1h-1v-1h-1v-1h-1zM488 303h1v1h1v1h1v-1h1v-1h1v1h-1v1h-1v1h-1v-1h-1v-1h-1zM491 303h1v1h1v1h1v-1h1v-1h1v1h-1v1h-1v1h-1v-1h-1v-1h-1zM558 136h1v1h1v1h1v-1h1v-1h1v1h-1v1h-1v1h-1v-1h-1v-1h-1zM567 136h1v1h1v1h1v-1h1v-1h1v1h-1v1h-1v1h-1v-1h-1v-1h-1zM550 155h1v1h1v1h1v-1h1v-1h1v1h-1v1h-1v1h-1v-1h-1v-1h-1zM552 155h1v1h1v1h1v-1h1v-1h1v1h-1v1h-1v1h-1v-1h-1v-1h-1zM604 155h1v1h1v1h1v-1h1v-1h1v1h-1v1h-1v1h-1v-1h-1v-1h-1zM556 162h1v1h1v1h1v-1h1v-1h1v1h-1v1h-1v1h-1v-1h-1v-1h-1zM557 162h1v1h1v1h1v-1h1v-1h1v1h-1v1h-1v1h-1v-1h-1v-1h-1zM561 162h1v1h1v1h1v-1h1v-1h1v1h-1v1h-1v1h-1v-1h-1v-1h-1zM565 162h1v1h1v1h1v-1h1v-1h1v1h-1v1h-1v1h-1v-1h-1v-1h-1zM570 162h1v1h1v1h1v-1h1v-1h1v1h-1v1h-1v1h-1v-1h-1v-1h-1zM575 162h1v1h1v1h1v-1h1v-1h1v1h-1v1h-1v1h-1v-1h-1v-1h-1zM576 162h1v1h1v1h1v-1h1v-1h1v1h-1v1h-1v1h-1v-1h-1v-1h-1zM580 162h1v1h1v1h1v-1h1v-1h1v1h-1v1h-1v1h-1v-1h-1v-1h-1zM583 162h1v1h1v1h1v-1h1v-1h1v1h-1v1h-1v1h-1v-1h-1v-1h-1zM586 162h1v1h1v1h1v-1h1v-1h1v1h-1v1h-1v1h-1v-1h-1v-1h-1zM587 162h1v1h1v1h1v-1h1v-1h1v1h-1v1h-1v1h-1v-1h-1v-1h-1zM588 162h1v1h1v1h1v-1h1v-1h1v1h-1v1h-1v1h-1v-1h-1v-1h-1zM589 162h1v1h1v1h1v-1h1v-1h1v1h-1v1h-1v1h-1v-1h-1v-1h-1zM597 162h1v1h1v1h1v-1h1v-1h1v1h-1v1h-1v1h-1v-1h-1v-1h-1zM555 178h1v1h1v1h1v-1h1v-1h1v1h-1v1h-1v1h-1v-1h-1v-1h-1zM564 178h1v1h1v1h1v-1h1v-1h1v1h-1v1h-1v1h-1v-1h-1v-1h-1zM566 178h1v1h1v1h1v-1h1v-1h1v1h-1v1h-1v1h-1v-1h-1v-1h-1zM567 178h1v1h1v1h1v-1h1v-1h1v1h-1v1h-1v1h-1v-1h-1v-1h-1zM569 178h1v1h1v1h1v-1h1v-1h1v1h-1v1h-1v1h-1v-1h-1v-1h-1zM571 178h1v1h1v1h1v-1h1v-1h1v1h-1v1h-1v1h-1v-1h-1v-1h-1zM572 178h1v1h1v1h1v-1h1v-1h1v1h-1v1h-1v1h-1v-1h-1v-1h-1zM573 178h1v1h1v1h1v-1h1v-1h1v1h-1v1h-1v1h-1v-1h-1v-1h-1zM574 178h1v1h1v1h1v-1h1v-1h1v1h-1v1h-1v1h-1v-1h-1v-1h-1zM576 178h1v1h1v1h1v-1h1v-1h1v1h-1v1h-1v1h-1v-1h-1v-1h-1zM577 178h1v1h1v1h1v-1h1v-1h1v1h-1v1h-1v1h-1v-1h-1v-1h-1zM579 178h1v1h1v1h1v-1h1v-1h1v1h-1v1h-1v1h-1v-1h-1v-1h-1zM580 178h1v1h1v1h1v-1h1v-1h1v1h-1v1h-1v1h-1v-1h-1v-1h-1zM581 178h1v1h1v1h1v-1h1v-1h1v1h-1v1h-1v1h-1v-1h-1v-1h-1zM583 178h1v1h1v1h1v-1h1v-1h1v1h-1v1h-1v1h-1v-1h-1v-1h-1zM584 178h1v1h1v1h1v-1h1v-1h1v1h-1v1h-1v1h-1v-1h-1v-1h-1zM587 178h1v1h1v1h1v-1h1v-1h1v1h-1v1h-1v1h-1v-1h-1v-1h-1zM594 178h1v1h1v1h1v-1h1v-1h1v1h-1v1h-1v1h-1v-1h-1v-1h-1zM596 178h1v1h1v1h1v-1h1v-1h1v1h-1v1h-1v1h-1v-1h-1v-1h-1zM599 178h1v1h1v1h1v-1h1v-1h1v1h-1v1h-1v1h-1v-1h-1v-1h-1zM605 178h1v1h1v1h1v-1h1v-1h1v1h-1v1h-1v1h-1v-1h-1v-1h-1zM563 188h1v1h1v1h1v-1h1v-1h1v1h-1v1h-1v1h-1v-1h-1v-1h-1zM564 188h1v1h1v1h1v-1h1v-1h1v1h-1v1h-1v1h-1v-1h-1v-1h-1zM565 188h1v1h1v1h1v-1h1v-1h1v1h-1v1h-1v1h-1v-1h-1v-1h-1zM570 188h1v1h1v1h1v-1h1v-1h1v1h-1v1h-1v1h-1v-1h-1v-1h-1zM591 208h1v1h1v1h1v-1h1v-1h1v1h-1v1h-1v1h-1v-1h-1v-1h-1zM596 208h1v1h1v1h1v-1h1v-1h1v1h-1v1h-1v1h-1v-1h-1v-1h-1zM584 211h1v1h1v1h1v-1h1v-1h1v1h-1v1h-1v1h-1v-1h-1v-1h-1zM555 241h1v1h1v1h1v-1h1v-1h1v1h-1v1h-1v1h-1v-1h-1v-1h-1zM556 241h1v1h1v1h1v-1h1v-1h1v1h-1v1h-1v1h-1v-1h-1v-1h-1zM560 241h1v1h1v1h1v-1h1v-1h1v1h-1v1h-1v1h-1v-1h-1v-1h-1zM561 241h1v1h1v1h1v-1h1v-1h1v1h-1v1h-1v1h-1v-1h-1v-1h-1zM564 241h1v1h1v1h1v-1h1v-1h1v1h-1v1h-1v1h-1v-1h-1v-1h-1zM570 241h1v1h1v1h1v-1h1v-1h1v1h-1v1h-1v1h-1v-1h-1v-1h-1zM571 241h1v1h1v1h1v-1h1v-1h1v1h-1v1h-1v1h-1v-1h-1v-1h-1zM577 241h1v1h1v1h1v-1h1v-1h1v1h-1v1h-1v1h-1v-1h-1v-1h-1zM579 241h1v1h1v1h1v-1h1v-1h1v1h-1v1h-1v1h-1v-1h-1v-1h-1zM580 241h1v1h1v1h1v-1h1v-1h1v1h-1v1h-1v1h-1v-1h-1v-1h-1zM582 241h1v1h1v1h1v-1h1v-1h1v1h-1v1h-1v1h-1v-1h-1v-1h-1zM583 241h1v1h1v1h1v-1h1v-1h1v1h-1v1h-1v1h-1v-1h-1v-1h-1zM585 241h1v1h1v1h1v-1h1v-1h1v1h-1v1h-1v1h-1v-1h-1v-1h-1zM586 241h1v1h1v1h1v-1h1v-1h1v1h-1v1h-1v1h-1v-1h-1v-1h-1zM587 241h1v1h1v1h1v-1h1v-1h1v1h-1v1h-1v1h-1v-1h-1v-1h-1zM589 241h1v1h1v1h1v-1h1v-1h1v1h-1v1h-1v1h-1v-1h-1v-1h-1zM591 241h1v1h1v1h1v-1h1v-1h1v1h-1v1h-1v1h-1v-1h-1v-1h-1zM592 241h1v1h1v1h1v-1h1v-1h1v1h-1v1h-1v1h-1v-1h-1v-1h-1zM594 241h1v1h1v1h1v-1h1v-1h1v1h-1v1h-1v1h-1v-1h-1v-1h-1zM595 241h1v1h1v1h1v-1h1v-1h1v1h-1v1h-1v1h-1v-1h-1v-1h-1zM599 241h1v1h1v1h1v-1h1v-1h1v1h-1v1h-1v1h-1v-1h-1v-1h-1zM600 241h1v1h1v1h1v-1h1v-1h1v1h-1v1h-1v1h-1v-1h-1v-1h-1zM601 241h1v1h1v1h1v-1h1v-1h1v1h-1v1h-1v1h-1v-1h-1v-1h-1zM583 257h1v1h1v1h1v-1h1v-1h1v1h-1v1h-1v1h-1v-1h-1v-1h-1zM581 270h1v1h1v1h1v-1h1v-1h1v1h-1v1h-1v1h-1v-1h-1v-1h-1zM577 273h1v1h1v1h1v-1h1v-1h1v1h-1v1h-1v1h-1v-1h-1v-1h-1zM578 273h1v1h1v1h1v-1h1v-1h1v1h-1v1h-1v1h-1v-1h-1v-1h-1zM579 272h1v1h1v1h1v-1h1v-1h1v1h-1v1h-1v1h-1v-1h-1v-1h-1zM591 280h1v1h1v1h1v-1h1v-1h1v1h-1v1h-1v1h-1v-1h-1v-1h-1zM579 303h1v1h1v1h1v-1h1v-1h1v1h-1v1h-1v1h-1v-1h-1v-1h-1zM585 303h1v1h1v1h1v-1h1v-1h1v1h-1v1h-1v1h-1v-1h-1v-1h-1z"/>
<path fill="#fff" d="M105 308h1v1h1v1h-1v1h-1v-1h-1v-1h1zM104 315h1v1h1v1h-1v1h-1v-1h-1v-1h1zM105 315h1v1h1v1h-1v1h-1v-1h-1v-1h1zM89 325h1v1h1v1h-1v1h-1v-1h-1v-1h1zM206 298h1v1h1v1h-1v1h-1v-1h-1v-1h1z"/>
</svg>
<div id="title">
<span class="t" style="left:50.0px;top:7px;letter-spacing:0.9px;">Light</span>
 <span class="t" style="left:86.625px;top:7px;letter-spacing:1.3px;">curve</span>
 <span class="t" style="left:124.25px;top:7px;letter-spacing:2.0px;">of</span>
 <span class="t" style="left:141.0px;top:7px;letter-spacing:0.0px;">T</span>
 <span class="t" style="left:153.0px;top:7px;letter-spacing:0.92px;">Pyx</span>
 <span class="t" style="left:178.375px;top:7px;letter-spacing:0.69px;">from</span>
 <span class="t" style="left:228.5px;top:7px;letter-spacing:0.8px;color:#ff0;">VSOLJ</span>
 <span class="t" style="left:274.375px;top:7px;letter-spacing:0.77px;">observations</span>
</div>
<span class="t" style="left:97.625px;top:23px;letter-spacing:0.8px;">1990</span>
<span class="t" style="left:192.625px;top:23px;letter-spacing:0.8px;">1991</span>
<span class="t" style="left:288.0px;top:23px;letter-spacing:0.8px;">1992</span>
<span class="t" style="left:382.75px;top:23px;letter-spacing:0.8px;">1993</span>
<span class="t" style="left:477.625px;top:23px;letter-spacing:0.8px;">1994</span>
<span class="t" style="left:573.0px;top:23px;letter-spacing:0.8px;">1995</span>
<span class="t" style="left:150.0px;top:55px;letter-spacing:0.0px;">T</span>
<span class="t" style="left:162.0px;top:55px;letter-spacing:0.92px;">Pyx</span>
<span class="t" style="left:188.375px;top:55px;letter-spacing:0.4px;">(NR)</span>
<span class="t" style="left:38.0px;top:57px;letter-spacing:0.0px;">7</span>
<span class="t" style="left:38.0px;top:90px;letter-spacing:0.0px;">8</span>
<span class="t" style="left:38.0px;top:123px;letter-spacing:0.0px;">9</span>
<span class="t" style="left:29.625px;top:156px;letter-spacing:1.6px;">10</span>
<span class="t" style="left:30.0px;top:189px;letter-spacing:1.6px;">11</span>
<span class="t" style="left:30.0px;top:221px;letter-spacing:1.6px;">12</span>
<span class="t" style="left:30.0px;top:254px;letter-spacing:1.6px;">13</span>
<span class="t" style="left:30.0px;top:287px;letter-spacing:1.6px;">14</span>
<span class="t" style="left:30.0px;top:320px;letter-spacing:1.6px;">15</span>
<span class="t" style="left:30.0px;top:352px;letter-spacing:1.6px;">16</span>
<span class="t" style="left:105.5px;top:373px;letter-spacing:0.8px;">48000</span>
<span class="t" style="left:235.875px;top:373px;letter-spacing:0.8px;">48500</span>
<span class="t" style="left:365.5px;top:373px;letter-spacing:0.8px;">49000</span>
<span class="t" style="left:496.875px;top:373px;letter-spacing:0.8px;">49500</span>
<span class="t" style="left:520.125px;top:385px;letter-spacing:0.72px;color:#00eeee;">drawn</span>
<span class="t" style="left:562.75px;top:385px;letter-spacing:0.0px;color:#00eeee;">by</span>
<span class="t" style="left:581.25px;top:385px;letter-spacing:0.9px;color:#00eeee;">ooruri</span>
</body></html>
